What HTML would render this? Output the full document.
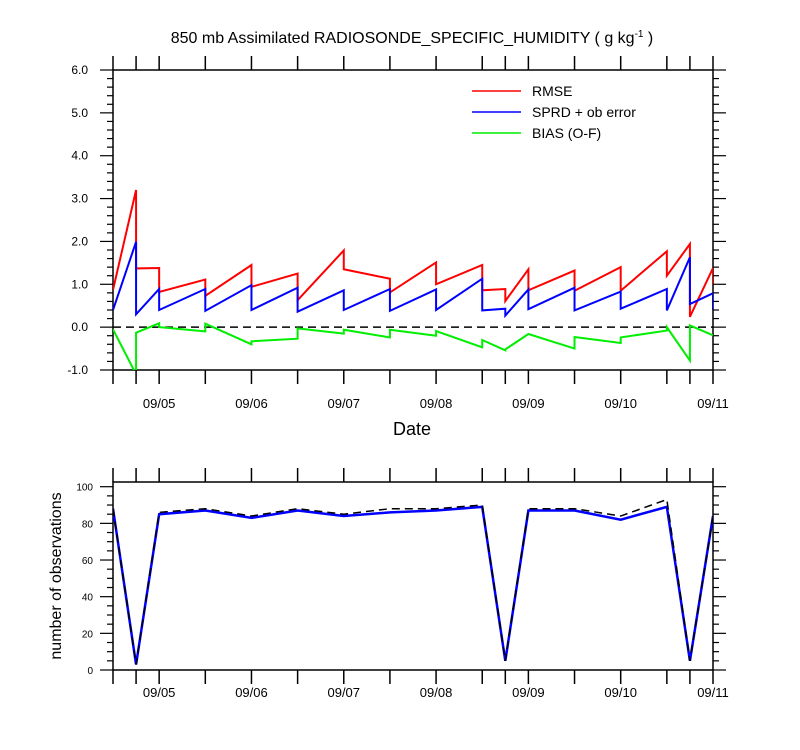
<!DOCTYPE html>
<html><head><meta charset="utf-8"><style>
body{margin:0;background:#fff}
svg{display:block;font-family:"Liberation Sans",Arial,sans-serif}
</style></head><body>
<svg id="c" width="800" height="750" xmlns="http://www.w3.org/2000/svg"></svg>
<script>
const times=[4.5,4.75,5.0,5.5,6.0,6.5,7.0,7.5,8.0,8.5,8.75,9.0,9.5,10.0,10.5,10.75,11.0];
const rmsePrior=[0.87,3.2,1.38,1.11,1.45,1.25,1.79,1.13,1.51,1.45,0.89,1.35,1.32,1.40,1.77,1.94,1.38];
const rmsePost=[0.87,1.37,0.82,0.73,0.94,0.63,1.35,0.81,1.00,0.86,0.61,0.86,0.85,0.85,1.20,0.24,1.00];
const sprdPrior=[0.40,1.99,0.89,0.89,0.98,0.92,0.86,0.89,0.88,1.13,0.43,0.88,0.92,0.83,0.89,1.63,0.79];
const sprdPost=[0.40,0.30,0.40,0.38,0.40,0.36,0.40,0.38,0.40,0.39,0.27,0.42,0.39,0.43,0.39,0.54,0.40];
const biasPrior=[-0.05,-1.1,0.09,-0.10,-0.40,-0.27,-0.15,-0.24,-0.20,-0.47,-0.54,-0.16,-0.50,-0.37,-0.08,-0.78,-0.19];
const biasPost=[-0.05,-0.13,0.00,0.08,-0.33,-0.03,-0.06,-0.06,-0.09,-0.30,-0.52,-0.16,-0.23,-0.24,0.00,0.04,-0.19];
const obsUsed=[88,3,85,87,83,87,84,86,87,89,5,87,87,82,89,5,84];
const obsTotal=[88,3,86,88,84,88,85,88,88,90,5,88,88,84,93,5,84];
const dayLabels=["09/05","09/06","09/07","09/08","09/09","09/10","09/11"];
const dayValues=[5,6,7,8,9,10,11];
const yTicksTop=[6,5,4,3,2,1,0,-1];
const yTicksBot=[0,20,40,60,80,100];

const NS="http://www.w3.org/2000/svg";
const svg=document.getElementById('c');
function el(tag,attrs,parent){const e=document.createElementNS(NS,tag);for(const k in attrs)e.setAttribute(k,attrs[k]);(parent||svg).appendChild(e);return e;}
const L=113,R=713;
const x=t=>L+(t-4.5)/(11-4.5)*(R-L);
const T1=70,B1=370;const y1=v=>T1+(6-v)/7*(B1-T1);
const T2=482,B2=670;const y2=v=>B2-v*(B2-486.7)/100;

// title
let e=el('text',{x:412,y:43,'text-anchor':'middle','font-size':16});

e.innerHTML='850 mb Assimilated RADIOSONDE_SPECIFIC_HUMIDITY ( g kg<tspan dy="-6" font-size="10">-1</tspan><tspan dy="6"> )</tspan>';

// clip for top
const defs=el('defs',{});const cp=el('clipPath',{id:'cp1'},defs);el('rect',{x:L,y:T1,width:R-L,height:B1-T1},cp);
const cp2=el('clipPath',{id:'cp2'},defs);el('rect',{x:L,y:T2,width:R-L,height:B2-T2},cp2);

function frame(top,bot,name){
  const g=el('g',{});
  el('rect',{x:L,y:top,width:R-L,height:bot-top,fill:'none',stroke:'#000','stroke-width':1.5},g);
  times.forEach(t=>{
    el('line',{x1:x(t),x2:x(t),y1:top-14,y2:top,stroke:'#000','stroke-width':1.5},g);
    el('line',{x1:x(t),x2:x(t),y1:bot,y2:bot+14,stroke:'#000','stroke-width':1.5},g);
  });
  return g;
}
const g1=frame(T1,B1,'top-plot-frame');
for(let v=-1;v<=6.001;v+=0.2){const mj=Math.abs(v-Math.round(v))<1e-6;const len=mj?13:6;const yy=y1(v);
  el('line',{x1:L-len,x2:L,y1:yy,y2:yy,stroke:'#000','stroke-width':1.2},g1);
  el('line',{x1:R,x2:R+len,y1:yy,y2:yy,stroke:'#000','stroke-width':1.2},g1);}
yTicksTop.forEach(v=>{const t=el('text',{x:88,y:y1(v)+4,'text-anchor':'end','font-size':12});t.textContent=v.toFixed(1);
  });
dayValues.forEach((d,i)=>{const t=el('text',{x:x(d),y:408,'text-anchor':'middle','font-size':13});t.textContent=dayLabels[i];
  
  const t2=el('text',{x:x(d),y:697,'text-anchor':'middle','font-size':13});t2.textContent=dayLabels[i];
  });
e=el('text',{x:412,y:435,'text-anchor':'middle','font-size':18});e.textContent='Date';


e=el('line',{x1:L,x2:R,y1:y1(0),y2:y1(0),stroke:'#000','stroke-width':1.5,'stroke-dasharray':'8,5'});


function saw(pr,po){let p=[];times.forEach((t,i)=>{p.push(x(t)+','+y1(pr[i]));p.push(x(t)+','+y1(po[i]));});return p.join(' ');}
[[rmsePrior,rmsePost,'#ff0000','rmse-line'],[sprdPrior,sprdPost,'#0000ff','sprd-line'],[biasPrior,biasPost,'#00ee00','bias-line']].forEach(s=>{
  const p=el('polyline',{points:saw(s[0],s[1]),fill:'none',stroke:s[2],'stroke-width':2,'clip-path':'url(#cp1)'});
  });

// legend
[['RMSE','#ff0000',91],['SPRD + ob error','#0000ff',112],['BIAS (O-F)','#00ee00',133]].forEach(l=>{
  const g=el('g',{});
  el('line',{x1:472,x2:521,y1:l[2],y2:l[2],stroke:l[1],'stroke-width':1.5},g);
  const t=el('text',{x:532,y:l[2]+5,'font-size':14},g);t.textContent=l[0];});

// bottom
const g2=frame(T2,B2,'bottom-plot-frame');
for(let v=0;v<=100;v+=5){const mj=v%20==0;const len=mj?13:6;const yy=y2(v);
  el('line',{x1:L-len,x2:L,y1:yy,y2:yy,stroke:'#000','stroke-width':1.2},g2);
  el('line',{x1:R,x2:R+len,y1:yy,y2:yy,stroke:'#000','stroke-width':1.2},g2);}
yTicksBot.forEach(v=>{const t=el('text',{x:93,y:y2(v)+4,'text-anchor':'end','font-size':10});t.textContent=v;
  });
e=el('text',{x:0,y:0,'text-anchor':'middle','font-size':16,transform:'translate(61,576) rotate(-90)'});
e.textContent='number of observations';
const lin=a=>times.map((t,i)=>x(t)+','+y2(a[i])).join(' ');
e=el('polyline',{points:lin(obsUsed),fill:'none',stroke:'#0000ff','stroke-width':2.5,'clip-path':'url(#cp2)'});

e=el('polyline',{points:lin(obsTotal),fill:'none',stroke:'#000','stroke-width':1.5,'stroke-dasharray':'8,5','clip-path':'url(#cp2)'});

</script>
</body></html>
